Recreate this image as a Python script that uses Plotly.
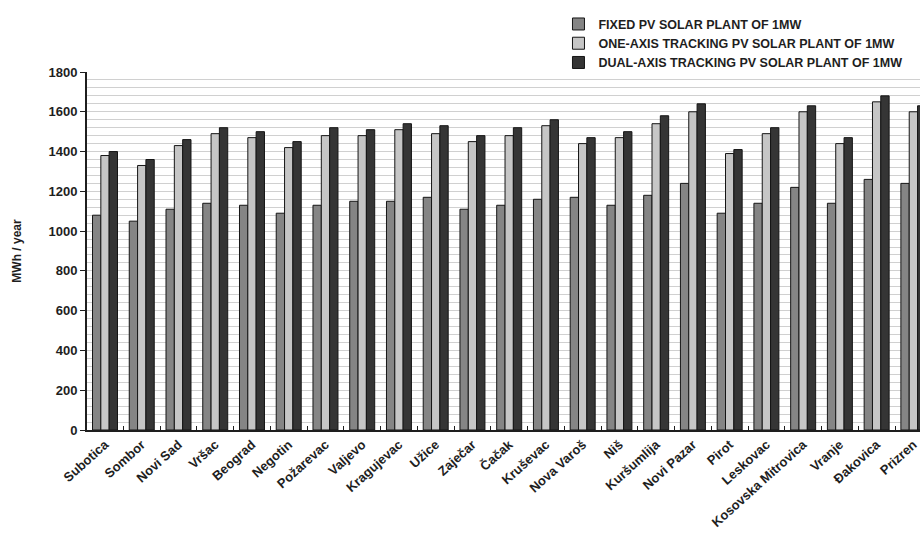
import plotly.graph_objects as go

cities = ["Subotica", "Sombor", "Novi Sad", "Vršac", "Beograd", "Negotin", "Požarevac",
          "Valjevo", "Kragujevac", "Užice", "Zaječar", "Čačak", "Kruševac", "Nova Varoš",
          "Niš", "Kuršumlija", "Novi Pazar", "Pirot", "Leskovac", "Kosovska Mitrovica",
          "Vranje", "Đakovica", "Prizren"]

fixed_pv = [1080, 1050, 1110, 1140, 1130, 1090, 1130, 1150, 1150, 1170, 1110, 1130,
            1160, 1170, 1130, 1180, 1240, 1090, 1140, 1220, 1140, 1260, 1240]
one_axis = [1380, 1330, 1430, 1490, 1470, 1420, 1480, 1480, 1510, 1490, 1450, 1480,
            1530, 1440, 1470, 1540, 1600, 1390, 1490, 1600, 1440, 1650, 1600]
dual_axis = [1400, 1360, 1460, 1520, 1500, 1450, 1520, 1510, 1540, 1530, 1480, 1520,
             1560, 1470, 1500, 1580, 1640, 1410, 1520, 1630, 1470, 1680, 1630]

series_names = ["FIXED PV SOLAR PLANT OF 1MW",
                "ONE-AXIS TRACKING PV SOLAR PLANT OF 1MW",
                "DUAL-AXIS TRACKING PV SOLAR PLANT OF 1MW"]
series_values = [fixed_pv, one_axis, dual_axis]
series_colors = ["#858585", "#c6c6c6", "#353535"]

y_ticks = [0, 200, 400, 600, 800, 1000, 1200, 1400, 1600, 1800]

FONT = "Liberation Sans, Arial, sans-serif"
INK = "#1e1e1e"

fig = go.Figure()
for name, vals, col in zip(series_names, series_values, series_colors):
    fig.add_trace(go.Bar(
        x=cities, y=vals, name=name,
        marker=dict(color=col, line=dict(color="#151515", width=1)),
    ))

fig.update_layout(
    width=920, height=539,
    margin=dict(l=87, r=0, t=72, b=109),
    paper_bgcolor="white", plot_bgcolor="white",
    barmode="group", bargap=0.32, bargroupgap=0,
    font=dict(family=FONT, size=12, color=INK, weight="bold"),
    legend=dict(x=0.566, y=1.175, xanchor="left", yanchor="top",
                font=dict(family=FONT, size=12.5, color=INK, weight="bold"),
                bgcolor="rgba(0,0,0,0)", tracegroupgap=0, itemwidth=30),
    xaxis=dict(
        range=[-0.49, 22.18], tickangle=-42,
        showline=True, linecolor=INK, linewidth=2,
        ticks="inside", tickson="boundaries", ticklen=4, tickcolor=INK,
        tickfont=dict(family=FONT, size=13, color=INK, weight="bold"),
        showgrid=False,
    ),
    yaxis=dict(
        range=[0, 1800], tickvals=y_ticks,
        showline=True, linecolor=INK, linewidth=2,
        ticks="outside", ticklen=5, tickcolor=INK,
        tickfont=dict(family=FONT, size=13, color=INK, weight="bold"),
        showgrid=True, gridcolor="#d0d0d0", gridwidth=1,
        minor=dict(dtick=40, showgrid=True, gridcolor="#d0d0d0", gridwidth=1),
        zeroline=False,
        title=dict(text="MWh / year", standoff=24,
                   font=dict(family=FONT, size=12, color=INK, weight="bold")),
    ),
)

fig.write_html("out.html",
               config={"displayModeBar": False},
               post_script="document.body.style.margin='0';document.body.style.overflow='hidden';")
